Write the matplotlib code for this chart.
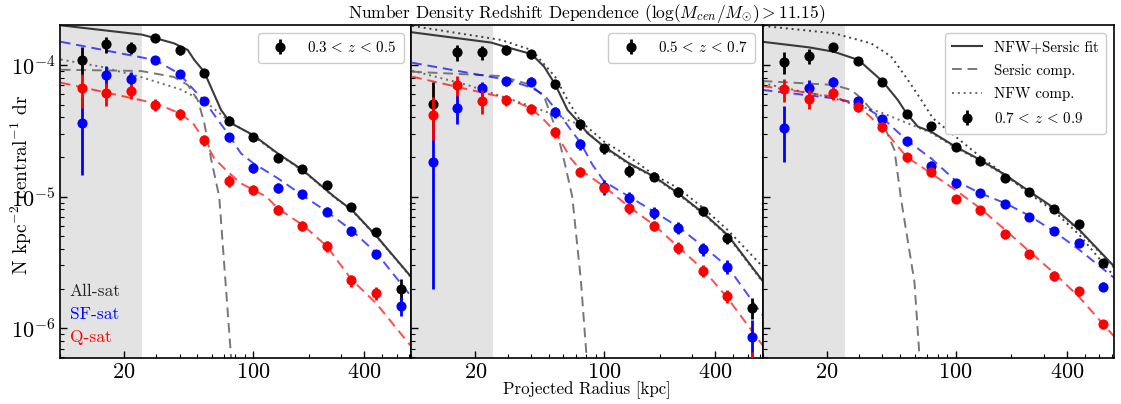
import numpy as np
import matplotlib
matplotlib.use("Agg")
import matplotlib.pyplot as plt
from matplotlib.ticker import LogLocator, NullFormatter, FixedLocator, FixedFormatter
from matplotlib.lines import Line2D

plt.rcParams.update({
    'font.family': 'serif',
    'font.serif': ['cmr10'],
    'mathtext.fontset': 'cm',
    'axes.formatter.use_mathtext': True,
    'axes.unicode_minus': False,
})

# ---------------- data ----------------
radius = [11.8, 16.0, 21.7, 29.5, 40.0, 54.3, 73.7, 100, 136, 185, 251, 341, 464, 630]
z_labels = [r'$0.3\,<\,z\,<\,0.5$', r'$0.5\,<\,z\,<\,0.7$', r'$0.7\,<\,z\,<\,0.9$']

all1 = [1.10e-4, 1.44e-4, 1.35e-4, 1.60e-4, 1.29e-4, 8.7e-5, 3.78e-5, 2.85e-5, 1.98e-5, 1.62e-5, 1.22e-5, 8.4e-6, 5.4e-6, 2.0e-6]
all1_err = [2.7e-5, 2.0e-5, 1.4e-5, 1.1e-5, 9e-6, 6e-6, 3e-6, 2e-6, 1.4e-6, 1.1e-6, 8e-7, 6e-7, 4e-7, 3.5e-7]
sf1 = [3.6e-5, 8.4e-5, 7.8e-5, 1.09e-4, 8.5e-5, 5.35e-5, 2.82e-5, 1.64e-5, 1.16e-5, 1.04e-5, 7.7e-6, 5.45e-6, 3.66e-6, 1.48e-6]
sf1_err = [2.15e-5, 1.5e-5, 1.0e-5, 8e-6, 6e-6, 4e-6, 2.2e-6, 1.4e-6, 1.0e-6, 8e-7, 6e-7, 4e-7, 3e-7, 2.4e-7]
q1 = [6.65e-5, 6.1e-5, 6.35e-5, 4.97e-5, 4.22e-5, 2.69e-5, 1.32e-5, 1.13e-5, 7.9e-6, 5.98e-6, 4.22e-6, 2.31e-6, 1.84e-6, np.nan]
q1_err = [1.9e-5, 1.25e-5, 8e-6, 5e-6, 4e-6, 2.5e-6, 1.3e-6, 1e-6, 7e-7, 5e-7, 4e-7, 2.5e-7, 2e-7, np.nan]

all2 = [5.06e-5, 1.25e-4, 1.25e-4, 1.30e-4, 1.21e-4, 7.13e-5, 3.56e-5, 2.32e-5, 1.57e-5, 1.42e-5, 1.08e-5, 7.78e-6, 4.84e-6, 1.43e-6]
all2_err = [2.3e-5, 1.7e-5, 1.5e-5, 1.1e-5, 1.0e-5, 6e-6, 3.5e-6, 2e-6, 1.6e-6, 1.1e-6, 8e-7, 6e-7, 4.5e-7, 2.6e-7]
sf2 = [1.84e-5, 4.74e-5, 6.65e-5, 7.55e-5, 7.47e-5, 4.38e-5, 2.51e-5, 1.18e-5, 9.8e-6, 7.55e-6, 5.81e-6, 4.0e-6, 2.93e-6, 8.6e-7]
sf2_err = [1.64e-5, 1.15e-5, 8e-6, 6e-6, 6e-6, 4e-6, 2.5e-6, 1.5e-6, 1.1e-6, 8e-7, 6e-7, 4.5e-7, 3.5e-7, 3e-7]
q2 = [4.17e-5, 7.05e-5, 5.36e-5, 5.42e-5, 4.64e-5, 3.08e-5, 1.55e-5, 1.16e-5, 8.14e-6, 5.98e-6, 4.09e-6, 2.72e-6, 1.76e-6, 4.8e-7]
q2_err = [1.5e-5, 1.2e-5, 1.1e-5, 5e-6, 4e-6, 3e-6, 1.4e-6, 1e-6, 7e-7, 5e-7, 4e-7, 2.8e-7, 2e-7, 1.8e-7]

all3 = [1.06e-4, 1.17e-4, 1.36e-4, 1.08e-4, 7.47e-5, 4.25e-5, 3.46e-5, 2.39e-5, 1.87e-5, 1.39e-5, 1.08e-5, 8.01e-6, 6.17e-6, 3.11e-6]
all3_err = [2.0e-5, 1.45e-5, 1.0e-5, 7e-6, 5e-6, 3e-6, 2e-6, 1.4e-6, 1.1e-6, 8e-7, 6e-7, 4.5e-7, 3.5e-7, 2e-7]
sf3 = [3.34e-5, 6.65e-5, 7.47e-5, 5.32e-5, 3.86e-5, 2.64e-5, 1.72e-5, 1.26e-5, 1.07e-5, 8.8e-6, 6.97e-6, 5.51e-6, 4.42e-6, 2.07e-6]
sf3_err = [1.5e-5, 1.05e-5, 7e-6, 4e-6, 3e-6, 2e-6, 1.3e-6, 9e-7, 8e-7, 6e-7, 4.5e-7, 3.5e-7, 2.8e-7, 1.6e-7]
q3 = [6.53e-5, 5.52e-5, 6.16e-5, 4.82e-5, 3.4e-5, 1.99e-5, 1.53e-5, 9.6e-6, 7.9e-6, 5.2e-6, 3.65e-6, 2.5e-6, 1.92e-6, 1.07e-6]
q3_err = [1.3e-5, 9e-6, 7e-6, 4e-6, 3e-6, 1.6e-6, 1.1e-6, 7e-7, 6e-7, 4e-7, 2.8e-7, 2e-7, 1.5e-7, 9e-8]

# fitted curves
fit1_r = [9.1, 25, 29.5, 37.3, 44.3, 48.1, 54.3, 67.1, 74, 79.2, 100, 136, 186, 275, 344, 470, 718]
fit1 = [2.0e-4, 1.70e-4, 1.60e-4, 1.46e-4, 1.30e-4, 1.09e-4, 8.9e-5, 4.55e-5, 3.78e-5, 3.5e-5, 2.94e-5, 2.13e-5, 1.59e-5, 1.0e-5, 7.9e-6, 4.95e-6, 2.46e-6]
nfw1_r = [9.1, 15.0, 24.7, 40.7, 56.8, 74, 100, 136, 186, 275, 344, 470, 718]
nfw1 = [1.10e-4, 9.7e-5, 8.1e-5, 6.5e-5, 5.1e-5, 3.75e-5, 2.9e-5, 2.1e-5, 1.57e-5, 9.9e-6, 7.8e-6, 4.9e-6, 2.43e-6]
ser1_r = [9.1, 24.7, 37.3, 44.3, 50.2, 54.3, 59.2, 65.6, 70.7, 76, 78]
ser1 = [9.2e-5, 9.0e-5, 8.1e-5, 7.05e-5, 5.4e-5, 3.7e-5, 1.95e-5, 1.0e-5, 2.4e-6, 6.1e-7, 3e-7]
sff1_r = [9.1, 29.5, 40, 46.1, 54.3, 61.7, 74, 86, 100, 136, 186, 251, 341, 468, 718]
sff1 = [1.50e-4, 1.09e-4, 8.55e-5, 6.84e-5, 5.35e-5, 4.17e-5, 2.94e-5, 2.13e-5, 1.80e-5, 1.38e-5, 1.02e-5, 7.7e-6, 5.57e-6, 3.71e-6, 1.75e-6]
qf1_r = [9.1, 29.5, 40, 47.3, 54.3, 61.7, 71.4, 86, 118, 136, 186, 251, 341, 464, 718]
qf1 = [7.34e-5, 5.12e-5, 4.3e-5, 3.61e-5, 2.69e-5, 1.95e-5, 1.59e-5, 1.26e-5, 1.0e-5, 8.15e-6, 6.08e-6, 4.2e-6, 2.35e-6, 1.55e-6, 7.3e-7]

fit2_r = [9.1, 24.3, 29.9, 40.3, 47.2, 54.1, 63.2, 74, 81.1, 100, 136, 186, 251, 345, 466, 718]
fit2 = [1.77e-4, 1.48e-4, 1.36e-4, 1.21e-4, 9.7e-5, 7.13e-5, 4.55e-5, 3.56e-5, 3.03e-5, 2.39e-5, 1.79e-5, 1.42e-5, 1.06e-5, 7.46e-6, 5.1e-6, 2.3e-6]
alt2_r = [9.1, 27.5, 40.3, 54.1, 63.2, 74.6, 100, 136, 186, 251, 345, 466, 718]
alt2 = [1.98e-4, 1.55e-4, 1.30e-4, 8.15e-5, 5.42e-5, 3.71e-5, 2.61e-5, 2.01e-5, 1.46e-5, 1.16e-5, 8.14e-6, 5.57e-6, 2.95e-6]
nfw2_r = [9.1, 18.1, 40, 74.6, 100, 136, 186, 251, 345, 466, 718]
nfw2 = [9.05e-5, 7.05e-5, 4.87e-5, 3.5e-5, 2.33e-5, 1.76e-5, 1.40e-5, 1.04e-5, 7.35e-6, 5.0e-6, 2.25e-6]
ser2_r = [9.1, 27.5, 40, 47.2, 55.7, 61, 67, 74.6, 80.1, 82]
ser2 = [8.89e-5, 8.24e-5, 7.05e-5, 5.74e-5, 3.03e-5, 1.8e-5, 1.0e-5, 2.32e-6, 6.1e-7, 4e-7]
sff2_r = [9.1, 29.9, 40, 47.2, 55.7, 74.6, 86.3, 100, 136, 186, 251, 345, 466, 718]
sff2 = [1.04e-4, 7.7e-5, 6.76e-5, 5.92e-5, 4.42e-5, 2.54e-5, 1.74e-5, 1.30e-5, 1.0e-5, 7.68e-6, 5.9e-6, 4.16e-6, 2.93e-6, 1.26e-6]
qf2_r = [9.1, 29.9, 40, 47.2, 54.1, 65.8, 74.6, 100, 136, 186, 251, 345, 466, 718]
qf2 = [8.15e-5, 5.58e-5, 4.69e-5, 3.82e-5, 3.11e-5, 1.95e-5, 1.59e-5, 1.19e-5, 8.37e-6, 6.08e-6, 4.16e-6, 2.77e-6, 1.69e-6, 7.45e-7]

fit3_r = [9.0, 16.1, 21.9, 29.8, 40.3, 48.6, 54.1, 62.4, 73.7, 100, 136, 186, 252, 343, 469, 725]
fit3 = [1.50e-4, 1.36e-4, 1.26e-4, 1.09e-4, 7.47e-5, 5.42e-5, 4.3e-5, 3.4e-5, 3.11e-5, 2.39e-5, 1.9e-5, 1.46e-5, 1.09e-5, 8.15e-6, 5.57e-6, 2.93e-6]
alt3_r = [9.0, 21.9, 34.8, 44.7, 55.1, 65.1, 75.2, 100, 136, 186, 252, 343, 469, 725]
alt3 = [1.98e-4, 1.74e-4, 1.46e-4, 1.16e-4, 7.7e-5, 5.42e-5, 3.94e-5, 2.85e-5, 2.01e-5, 1.46e-5, 1.05e-5, 7.7e-6, 5.1e-6, 2.46e-6]
nfw3_r = [9.0, 21.9, 39.5, 73.7, 100, 136, 186, 252, 343, 469, 725]
nfw3 = [7.26e-5, 5.58e-5, 4.35e-5, 3.05e-5, 2.35e-5, 1.87e-5, 1.44e-5, 1.07e-5, 8.0e-6, 5.45e-6, 2.85e-6]
ser3_r = [9.0, 21.9, 27.2, 30.8, 35.6, 41.1, 46.6, 50.7, 59.8, 63.7, 65.0]
ser3 = [7.55e-5, 7.05e-5, 6.46e-5, 5.58e-5, 4.42e-5, 3.4e-5, 2.26e-5, 9.4e-6, 2.25e-6, 6.07e-7, 4.0e-7]
sff3_r = [9.0, 21.9, 29.8, 40.3, 54.1, 73.7, 100, 136, 186, 252, 343, 469, 725]
sff3 = [6.46e-5, 5.58e-5, 5.12e-5, 3.94e-5, 2.69e-5, 1.95e-5, 1.32e-5, 1.06e-5, 8.9e-6, 7.13e-6, 5.41e-6, 3.93e-6, 2.4e-6]
qf3_r = [9.0, 21.9, 29.8, 40.3, 54.1, 73.7, 100, 136, 186, 252, 343, 466, 725]
qf3 = [6.92e-5, 5.74e-5, 4.87e-5, 3.3e-5, 2.01e-5, 1.50e-5, 1.12e-5, 8.14e-6, 5.57e-6, 3.81e-6, 2.61e-6, 1.73e-6, 8.6e-7]

panels = [
    dict(all=all1, all_err=all1_err, sf=sf1, sf_err=sf1_err, q=q1, q_err=q1_err,
         fit=(fit1_r, fit1), nfw=(nfw1_r, nfw1), alt=None, ser=(ser1_r, ser1),
         sff=(sff1_r, sff1), qf=(qf1_r, qf1)),
    dict(all=all2, all_err=all2_err, sf=sf2, sf_err=sf2_err, q=q2, q_err=q2_err,
         fit=(fit2_r, fit2), nfw=(nfw2_r, nfw2), alt=(alt2_r, alt2), ser=(ser2_r, ser2),
         sff=(sff2_r, sff2), qf=(qf2_r, qf2)),
    dict(all=all3, all_err=all3_err, sf=sf3, sf_err=sf3_err, q=q3, q_err=q3_err,
         fit=(fit3_r, fit3), nfw=(nfw3_r, nfw3), alt=(alt3_r, alt3), ser=(ser3_r, ser3),
         sff=(sff3_r, sff3), qf=(qf3_r, qf3)),
]

# ---------------- plotting ----------------
fig, axes = plt.subplots(1, 3, figsize=(11.21, 4.04), dpi=100, sharey=True)
fig.subplots_adjust(left=0.0535, right=0.9937, bottom=0.114, top=0.938, wspace=0)

XMIN, XMAX = 9.0, 720
YMIN, YMAX = 5.95e-7, 2.01e-4
fit_col = '#3a3a3a'
ser_col = '#777777'
nfw_col = '#6a6a6a'

for i, (ax, p) in enumerate(zip(axes, panels)):
    ax.set_xscale('log')
    ax.set_yscale('log')
    ax.axvspan(XMIN * 0.9, 25, color='#e3e3e3', zorder=0, lw=0)

    ax.plot(*p['ser'], ls=(0, (5, 3)), color=ser_col, lw=1.4, zorder=2)
    ax.plot(*p['nfw'], ls=(0, (1, 2)), color=nfw_col, lw=1.4, zorder=2)
    if p['alt'] is not None:
        ax.plot(*p['alt'], ls=(0, (1, 2)), color='#404040', lw=1.4, zorder=2)
    ax.plot(*p['fit'], ls='-', color=fit_col, lw=1.5, zorder=2)
    ax.plot(*p['sff'], ls=(0, (5, 3)), color='blue', alpha=0.7, lw=1.4, zorder=2)
    ax.plot(*p['qf'], ls=(0, (5, 3)), color='red', alpha=0.7, lw=1.4, zorder=2)

    ax.errorbar(radius, p['all'], yerr=p['all_err'], fmt='o', color='black', ms=6.3,
                elinewidth=2, capsize=0, zorder=3, label=z_labels[i])
    ax.errorbar(radius, p['sf'], yerr=p['sf_err'], fmt='o', color='blue', ms=6.3,
                elinewidth=2, capsize=0, zorder=4)
    ax.errorbar(radius, p['q'], yerr=p['q_err'], fmt='o', color='red', ms=6.3,
                elinewidth=2, capsize=0, zorder=5)

    ax.set_xlim(XMIN, XMAX)
    ax.set_ylim(YMIN, YMAX)
    ax.xaxis.set_major_locator(FixedLocator([20, 100, 400]))
    ax.xaxis.set_major_formatter(FixedFormatter([r'$20$', r'$100$', r'$400$']))
    ax.xaxis.set_minor_locator(LogLocator(base=10, subs=np.arange(2, 10)))
    ax.xaxis.set_minor_formatter(NullFormatter())
    ax.yaxis.set_minor_locator(LogLocator(base=10, subs=np.arange(2, 10)))
    ax.yaxis.set_minor_formatter(NullFormatter())
    ax.tick_params(which='both', direction='in', labelsize=16)
    ax.tick_params(which='major', length=5, width=1)
    ax.tick_params(which='minor', length=3, width=0.8)
    for s in ax.spines.values():
        s.set_linewidth(1.2)

    if i < 2:
        ax.legend(loc='upper right', fontsize=10.8, borderpad=0.5, framealpha=1.0)

# legend for third panel
ax3 = axes[2]
h_err = ax3.get_legend_handles_labels()[0][0]
handles = [Line2D([], [], color=fit_col, lw=1.5, ls='-'),
           Line2D([], [], color=ser_col, lw=1.4, ls=(0, (5, 3))),
           Line2D([], [], color=nfw_col, lw=1.4, ls=(0, (1, 2))),
           h_err]
labels = ['NFW+Sersic fit', 'Sersic comp.', 'NFW comp.', z_labels[2]]
ax3.legend(handles, labels, loc='upper right', fontsize=10.8, framealpha=1.0,
           borderpad=0.5, labelspacing=0.65)

ax1 = axes[0]
ax1.text(0.028, 0.20, 'All-sat', color='#222222', fontsize=12.5, transform=ax1.transAxes, va='center')
ax1.text(0.028, 0.13, 'SF-sat', color='blue', fontsize=12.5, transform=ax1.transAxes, va='center')
ax1.text(0.028, 0.063, 'Q-sat', color='red', fontsize=12.5, transform=ax1.transAxes, va='center')

axes[1].set_title(r'Number Density Redshift Dependence ($\log(M_{cen}/M_{\odot}) > 11.15$)',
                  fontsize=12.5, pad=5)
axes[1].set_xlabel('Projected Radius [kpc]', fontsize=12.2, labelpad=-1)
fig.text(0.0195, 0.543, r'N kpc$^{-2}$ central$^{-1}$ dr', rotation=90,
         fontsize=14, ha='center', va='center')

fig.savefig('out.png', dpi=100)
